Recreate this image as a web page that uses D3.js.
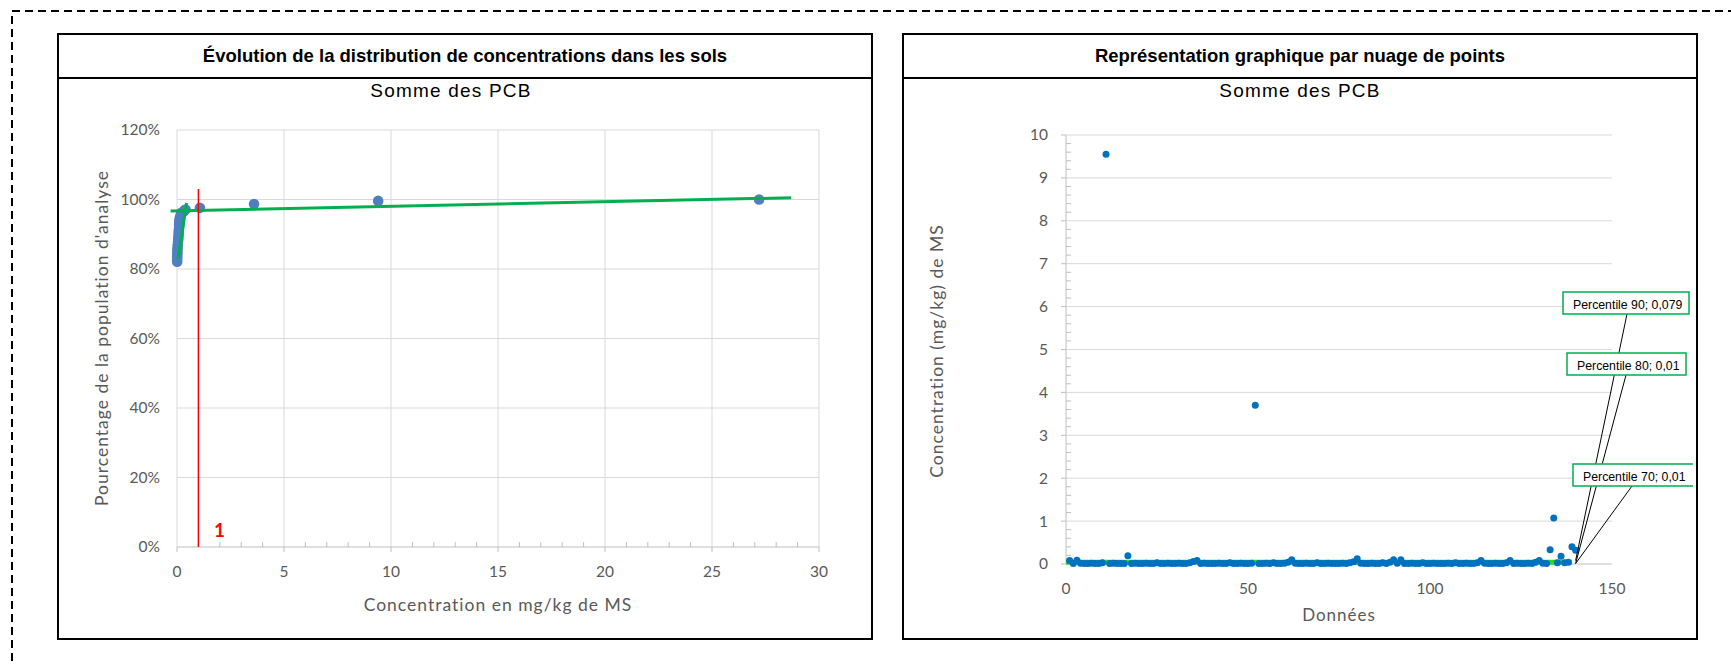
<!DOCTYPE html>
<html>
<head>
<meta charset="utf-8">
<script src="https://cdn.jsdelivr.net/npm/d3@7"></script>
<style>
  body { margin: 0; background: #fff; }
  svg text { font-family: "Lato", "Open Sans", sans-serif; }
  .title { font-family: "Liberation Sans", Arial, sans-serif; font-weight: bold; }
  .subtitle { font-family: "Liberation Sans", Arial, sans-serif; }
  .tick-label { fill: #595959; }
  .axis-title { fill: #595959; letter-spacing: 1px; }
</style>
</head>
<body>
<div id="chart"></div>
<script>
// left chart: cumulative distribution (concentration -> % of population)
const concVals = [0.01, 0.01, 0.012, 0.015, 0.02, 0.02, 0.03, 0.04, 0.05, 0.06, 0.07, 0.079,
  0.08, 0.09, 0.1, 0.1, 0.11, 0.12, 0.14, 0.19, 0.2, 0.33, 0.35, 0.4, 1.07, 3.6, 9.4, 27.2];
const pctVals = [0.821, 0.829, 0.836, 0.843, 0.85, 0.857, 0.864, 0.871, 0.879, 0.886, 0.893, 0.9,
  0.907, 0.914, 0.921, 0.929, 0.936, 0.943, 0.95, 0.957, 0.962, 0.966, 0.969, 0.971, 0.976, 0.987, 0.996, 1.0];
const trendSteep = [[0.05, 0.83], [0.45, 0.99]];
const trendFlat = [[-0.3, 0.967], [28.7, 1.005]];
const seuil = 1;
const seuilTop = 1.03;
const xTicksLeft = [0, 5, 10, 15, 20, 25, 30];
const yTicksLeft = [0, 0.2, 0.4, 0.6, 0.8, 1.0, 1.2];

// right chart: raw values in data order (index 1..140)
const sampleVals = [
  0.08, 0.01, 0.09, 0.02, 0.01, 0.01, 0.02, 0.01, 0.01, 0.03,
  9.55, 0.01, 0.02, 0.01, 0.01, 0.01, 0.19, 0.01, 0.02, 0.01,
  0.01, 0.02, 0.01, 0.01, 0.03, 0.01, 0.01, 0.02, 0.01, 0.01,
  0.02, 0.01, 0.01, 0.03, 0.06, 0.08, 0.01, 0.02, 0.01, 0.01,
  0.01, 0.02, 0.01, 0.01, 0.03, 0.01, 0.01, 0.02, 0.01, 0.01,
  0.02, 3.7, 0.01, 0.01, 0.02, 0.01, 0.03, 0.01, 0.01, 0.02,
  0.04, 0.1, 0.02, 0.01, 0.01, 0.02, 0.01, 0.01, 0.03, 0.01,
  0.01, 0.02, 0.01, 0.01, 0.01, 0.02, 0.01, 0.03, 0.05, 0.12,
  0.02, 0.01, 0.01, 0.02, 0.01, 0.01, 0.03, 0.01, 0.04, 0.1,
  0.02, 0.1, 0.01, 0.01, 0.02, 0.01, 0.01, 0.03, 0.01, 0.01,
  0.02, 0.01, 0.01, 0.01, 0.02, 0.01, 0.03, 0.01, 0.01, 0.02,
  0.01, 0.01, 0.03, 0.08, 0.02, 0.01, 0.01, 0.02, 0.01, 0.01,
  0.03, 0.08, 0.01, 0.02, 0.01, 0.01, 0.02, 0.01, 0.04, 0.08,
  0.02, 0.01, 0.33, 1.07, 0.03, 0.18, 0.03, 0.04, 0.4, 0.32
];
const bandLine = [[0, 0.04], [139, 0.04]];
const percNames = ["Percentile 90", "Percentile 80", "Percentile 70"];
const percValues = [0.079, 0.01, 0.01];
const percIndex = 140;
const xTicksRight = [0, 50, 100, 150];
const yTicksRight = [0, 1, 2, 3, 4, 5, 6, 7, 8, 9, 10];

const W = 1731, H = 664;
const GRID = "#d9d9d9", AXIS = "#bfbfbf", GREEN = "#00b050";

let svg = d3.select("#chart").append("svg")
  .attr("width", W).attr("height", H);

// dashed outer frame (runs off the bottom and right of the picture)
svg.append("path")
  .attr("d", "M12," + (H + 10) + " V11 H" + (W + 10))
  .attr("fill", "none").attr("stroke", "#000")
  .attr("stroke-width", 2).attr("stroke-dasharray", "8,5");

function panel(box, title, subX) {
  let g = svg.append("g");
  g.append("rect")
    .attr("x", box.x).attr("y", box.y).attr("width", box.w).attr("height", box.h)
    .attr("fill", "#fff").attr("stroke", "#000").attr("stroke-width", 2);
  g.append("line")
    .attr("x1", box.x).attr("x2", box.x + box.w).attr("y1", 78).attr("y2", 78)
    .attr("stroke", "#000").attr("stroke-width", 2);
  g.append("text").attr("class", "title")
    .attr("x", box.x + box.w / 2).attr("y", 56).attr("dy", "0.35em")
    .attr("text-anchor", "middle").attr("font-size", 18.5).attr("fill", "#000")
    .text(title);
  g.append("text").attr("class", "subtitle")
    .attr("x", subX).attr("y", 90).attr("dy", "0.35em")
    .attr("text-anchor", "middle").attr("font-size", 19).attr("fill", "#000")
    .attr("letter-spacing", 1.2)
    .text("Somme des PCB");
  return g;
}

function drawDistribution() {
  let g = panel({x: 58, y: 34, w: 814, h: 605},
    "Évolution de la distribution de concentrations dans les sols", 451);

  let x = d3.scaleLinear().domain([0, 30]).range([177, 819]);
  let y = d3.scaleLinear().domain([0, 1.2]).range([547, 130]);

  // grid
  g.selectAll(".hgrid").data(yTicksLeft.slice(1)).enter().append("line")
    .attr("x1", x(0)).attr("x2", x(30)).attr("y1", d => y(d)).attr("y2", d => y(d))
    .attr("stroke", GRID);
  g.selectAll(".vgrid").data(xTicksLeft).enter().append("line")
    .attr("x1", d => x(d)).attr("x2", d => x(d)).attr("y1", y(0)).attr("y2", y(1.2))
    .attr("stroke", GRID);

  // x axis line + ticks (major down, minor up)
  g.append("line").attr("x1", x(0)).attr("x2", x(30)).attr("y1", y(0)).attr("y2", y(0))
    .attr("stroke", AXIS);
  g.selectAll(".minor").data(d3.range(0, 31)).enter().append("line")
    .attr("x1", d => x(d)).attr("x2", d => x(d))
    .attr("y1", y(0)).attr("y2", d => d % 5 === 0 ? y(0) + 5 : y(0) - 5)
    .attr("stroke", AXIS);

  g.selectAll(".xl").data(xTicksLeft).enter().append("text").attr("class", "tick-label")
    .attr("x", d => x(d)).attr("y", 572).attr("dy", "0.35em")
    .attr("text-anchor", "middle").attr("font-size", 15.5).text(d => d);
  g.selectAll(".yl").data(yTicksLeft).enter().append("text").attr("class", "tick-label")
    .attr("x", 160).attr("y", d => y(d)).attr("dy", "0.35em")
    .attr("text-anchor", "end").attr("font-size", 15.5).text(d3.format(".0%"));

  g.append("text").attr("class", "axis-title")
    .attr("x", (x(0) + x(30)) / 2).attr("y", 605).attr("dy", "0.35em")
    .attr("text-anchor", "middle").attr("font-size", 17.5)
    .text("Concentration en mg/kg de MS");
  g.append("text").attr("class", "axis-title")
    .attr("transform", "translate(102,338) rotate(-90)").attr("dy", "0.35em")
    .attr("text-anchor", "middle").attr("font-size", 17.5)
    .text("Pourcentage de la population d'analyse");

  // points
  g.selectAll(".pt").data(concVals).enter().append("circle")
    .attr("cx", d => x(d)).attr("cy", (d, i) => y(pctVals[i]))
    .attr("r", 5.3).attr("fill", "#4e80bf");

  let line = d3.line().x(d => x(d[0])).y(d => y(d[1]));
  [trendSteep, trendFlat].forEach(t => {
    g.append("path").attr("d", line(t)).attr("fill", "none")
      .attr("stroke", GREEN).attr("stroke-width", 3);
  });

  // threshold
  g.append("line").attr("x1", x(seuil)).attr("x2", x(seuil))
    .attr("y1", y(0)).attr("y2", y(seuilTop))
    .attr("stroke", "#ff0000").attr("stroke-width", 1.5);
  g.append("text").attr("x", x(seuil) + 21).attr("y", y(0) - 17).attr("dy", "0.35em")
    .attr("font-size", 19).attr("font-weight", "bold").attr("fill", "#ff0000")
    .attr("text-anchor", "middle").text(seuil);
}

function drawScatter() {
  let g = panel({x: 903, y: 34, w: 794, h: 605},
    "Représentation graphique par nuage de points", 1300);

  let x = d3.scaleLinear().domain([0, 150]).range([1066, 1612]);
  let y = d3.scaleLinear().domain([0, 10]).range([564, 135]);

  g.selectAll(".hgrid").data(yTicksRight).enter().append("line")
    .attr("x1", x(0)).attr("x2", x(150)).attr("y1", d => y(d)).attr("y2", d => y(d))
    .attr("stroke", d => d === 0 ? AXIS : GRID);

  // y axis with minor ticks every 0.2
  g.append("line").attr("x1", x(0)).attr("x2", x(0)).attr("y1", y(0)).attr("y2", y(10))
    .attr("stroke", AXIS);
  g.selectAll(".minor").data(d3.range(0, 51)).enter().append("line")
    .attr("y1", d => y(d / 5)).attr("y2", d => y(d / 5))
    .attr("x1", x(0)).attr("x2", d => d % 5 === 0 ? x(0) - 5 : x(0) + 5)
    .attr("stroke", AXIS);

  g.selectAll(".xl").data(xTicksRight).enter().append("text").attr("class", "tick-label")
    .attr("x", d => x(d)).attr("y", 589).attr("dy", "0.35em")
    .attr("text-anchor", "middle").attr("font-size", 15.5).text(d => d);
  g.selectAll(".yl").data(yTicksRight).enter().append("text").attr("class", "tick-label")
    .attr("x", 1048).attr("y", d => y(d)).attr("dy", "0.35em")
    .attr("text-anchor", "end").attr("font-size", 15.5).text(d => d);

  g.append("text").attr("class", "axis-title")
    .attr("x", (x(0) + x(150)) / 2).attr("y", 615).attr("dy", "0.35em")
    .attr("text-anchor", "middle").attr("font-size", 17).text("Données");
  g.append("text").attr("class", "axis-title")
    .attr("transform", "translate(937,351) rotate(-90)").attr("dy", "0.35em")
    .attr("text-anchor", "middle").attr("font-size", 17.5)
    .text("Concentration (mg/kg) de MS");

  let line = d3.line().x(d => x(d[0])).y(d => y(d[1]));
  g.append("path").attr("d", line(bandLine)).attr("fill", "none")
    .attr("stroke", "#22dd22").attr("stroke-width", 5);

  g.selectAll(".pt").data(sampleVals).enter().append("circle")
    .attr("cx", (d, i) => x(i + 1)).attr("cy", d => y(d))
    .attr("r", 3.5).attr("fill", "#0070c0");

  // percentile callouts
  let boxes = [
    {x: 1563, y: 292, w: 126, h: 22, lx: 1627},
    {x: 1567, y: 353, w: 119, h: 22, lx: 1626},
    {x: 1573, y: 464, w: 124, h: 22, lx: 1632}
  ];
  let fmt = v => String(v).replace(".", ",");
  percNames.forEach((name, i) => {
    let b = boxes[i];
    g.append("line")
      .attr("x1", b.lx).attr("y1", b.y + b.h)
      .attr("x2", x(percIndex)).attr("y2", y(percValues[i]))
      .attr("stroke", "#000").attr("stroke-width", 1);
  });
  g.append("clipPath").attr("id", "area-clip").append("rect")
    .attr("x", 903).attr("y", 34).attr("width", 790).attr("height", 605);
  percNames.forEach((name, i) => {
    let b = boxes[i];
    let lg = g.append("g").attr("clip-path", "url(#area-clip)");
    lg.append("rect").attr("x", b.x).attr("y", b.y).attr("width", b.w).attr("height", b.h)
      .attr("fill", "#fff").attr("stroke", GREEN).attr("stroke-width", 1.5);
    lg.append("text").attr("class", "subtitle")
      .attr("x", b.x + 10).attr("y", b.y + b.h / 2 + 2).attr("dy", "0.35em")
      .attr("font-size", 12.3).attr("fill", "#000")
      .text(name + "; " + fmt(percValues[i]));
  });
}

drawDistribution();
drawScatter();
</script>
</body>
</html>
